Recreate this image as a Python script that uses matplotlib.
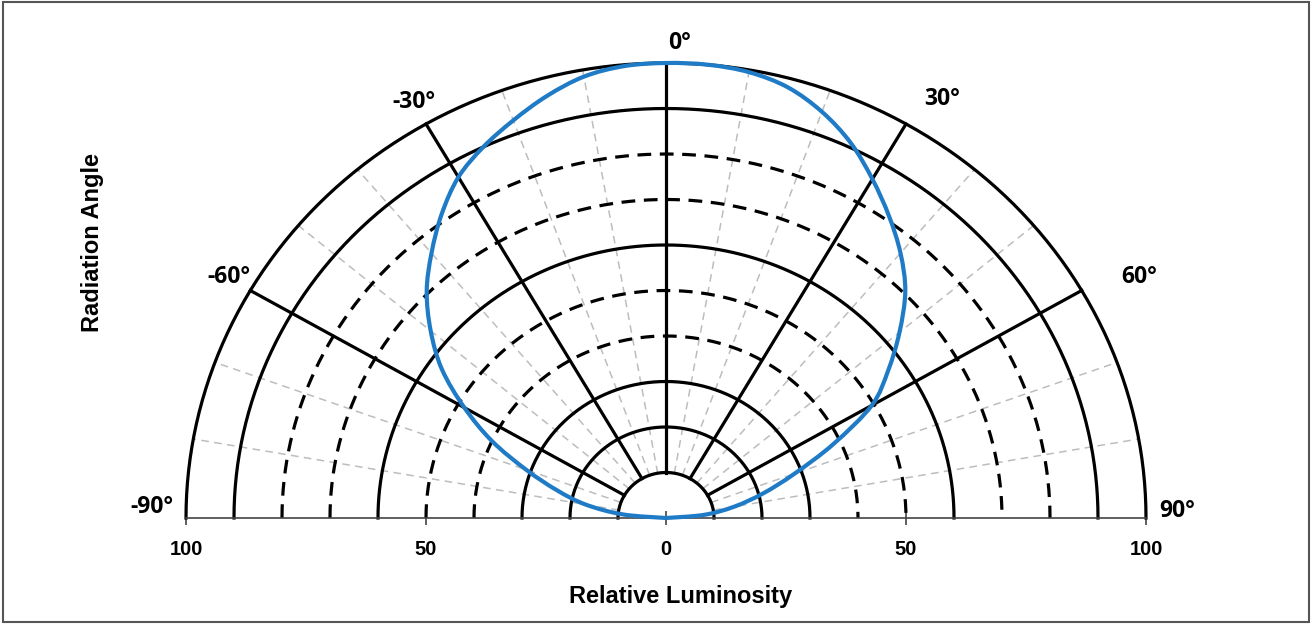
import numpy as np
import matplotlib.pyplot as plt
from matplotlib.patches import Rectangle, PathPatch
from matplotlib.path import Path

# radiation pattern (angle from vertical, degrees)
angles = [-90, -85, -80, -75, -70, -65, -60, -55, -50, -45, -40, -35, -30,
          -25, -20, -15, -10, -5, 0, 5, 10, 15, 20, 25, 30, 35, 40, 45,
          50, 55, 60, 65, 70, 75, 80, 85, 90]
luminosity = [0, 9, 17, 23.5, 31, 40, 48.5, 57, 64, 70.5, 76, 81.5, 86.5,
              90, 93, 96, 98.5, 99.7, 100, 100, 99.5, 98, 95, 91, 86, 81, 76, 70.5,
              63.5, 56.5, 49.5, 38.5, 28.5, 21, 14.5, 8, 0]

solid_rings = [10, 20, 30, 60, 90, 100]
dashed_rings = [40, 50, 70, 80]
solid_spokes = [-60, -30, 0, 30, 60]
grey_spokes = [-80, -70, -50, -40, -20, -10, 10, 20, 40, 50, 70, 80]
angle_labels = [-90, -60, -30, 0, 30, 60, 90]
x_ticks = [-100, -50, 0, 50, 100]
x_ticklabels = ["100", "50", "0", "50", "100"]

fig = plt.figure(figsize=(13.13, 6.24), dpi=100)
ax = fig.add_axes([186 / 1313, 106 / 624, 960 / 1313, 455 / 624])

sweep = np.radians(np.linspace(-90, 90, 361))


def to_xy(r, deg):
    t = np.radians(deg)
    return r * np.sin(t), r * np.cos(t)


# thin grey spokes
for a in grey_spokes:
    x, y = to_xy(np.array([10, 100]), a)
    ax.plot(x, y, color="#bdbdbd", lw=1.1, ls=(0, (5, 3.5)), zorder=1)

# rings
for r in solid_rings:
    ax.plot(r * np.sin(sweep), r * np.cos(sweep), color="black", lw=2.3,
            zorder=2, clip_on=False)
for r in dashed_rings:
    ax.plot(r * np.sin(sweep), r * np.cos(sweep), color="black", lw=2.3,
            ls=(0, (4.3, 2.7)), zorder=2, clip_on=False)

# black spokes
for a in solid_spokes:
    x, y = to_xy(np.array([10, 100]), a)
    ax.plot(x, y, color="black", lw=2.3, zorder=2, clip_on=False)

# pattern, drawn as a smooth bezier path through the read points
px, py = to_xy(np.array(luminosity, dtype=float), np.array(angles, dtype=float))
pts = np.column_stack([px, py])
ext = np.vstack([pts[0], pts, pts[-1]])
verts = [pts[0]]
codes = [Path.MOVETO]
for i in range(len(pts) - 1):
    p0, p1, p2, p3 = ext[i], ext[i + 1], ext[i + 2], ext[i + 3]
    verts += [p1 + (p2 - p0) / 6, p2 - (p3 - p1) / 6, p2]
    codes += [Path.CURVE4] * 3
ax.add_patch(PathPatch(Path(verts, codes), fill=False, edgecolor="#1f7bc6",
                       lw=3, zorder=4, clip_on=False))

ax.set_xlim(-100, 100)
ax.set_ylim(0, 100)
for s in ["top", "left", "right"]:
    ax.spines[s].set_visible(False)
ax.spines["bottom"].set_color("#444444")
ax.spines["bottom"].set_linewidth(1.2)
ax.set_yticks([])
ax.set_xticks(x_ticks)
ax.set_xticklabels(x_ticklabels, fontsize=14.5, fontweight="bold",
                   family=["Liberation Sans", "DejaVu Sans"])
ax.tick_params(axis="x", direction="inout", length=10, width=1.2,
               color="#444444", pad=11)

# angle labels around the arc
label_pos = {-90: (-107, 2.5), -60: (-91, 53), -30: (-52.5, 91.5), 0: (2.8, 104.5),
             30: (57.5, 92), 60: (98.5, 53), 90: (106.5, 1.5)}
for a in angle_labels:
    lx, ly = label_pos[a]
    ax.text(lx, ly, f"{a}\u00b0", ha="center", va="center", fontsize=16.5,
            fontweight="bold", family=["Open Sans", "DejaVu Sans"], clip_on=False)

fig.text(681 / 1313, 1 - 596 / 624, "Relative Luminosity", ha="center",
         va="center", fontsize=17, fontweight="bold",
         family=["Liberation Sans", "DejaVu Sans"])
fig.text(93 / 1313, 1 - 243 / 624, "Radiation Angle", ha="center", va="center",
         rotation=90, fontsize=17, fontweight="bold",
         family=["Liberation Sans", "DejaVu Sans"])

fig.patches.append(Rectangle((0.002, 0.003), 0.995, 0.994,
                             transform=fig.transFigure, fill=False,
                             edgecolor="#555555", lw=1.5))

fig.savefig("out.png", dpi=100)
